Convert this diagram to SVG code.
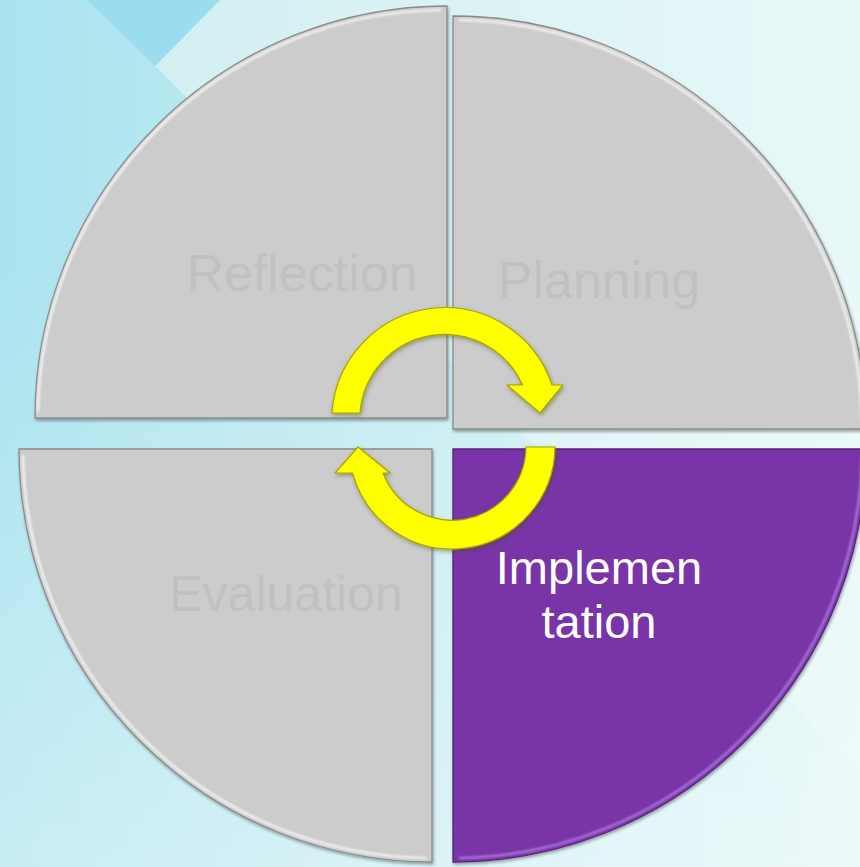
<svg xmlns="http://www.w3.org/2000/svg" width="860" height="867" viewBox="0 0 860 867">
  <defs>
    <linearGradient id="bgL" gradientUnits="userSpaceOnUse" x1="0" y1="0" x2="860" y2="0">
      <stop offset="0" stop-color="#aae3ef"/>
      <stop offset="0.5" stop-color="#c8edf2"/>
      <stop offset="1" stop-color="#e3f6f7"/>
    </linearGradient>
    <linearGradient id="bgR" gradientUnits="userSpaceOnUse" x1="150" y1="0" x2="860" y2="0">
      <stop offset="0" stop-color="#d2eff2"/>
      <stop offset="1" stop-color="#e8f8f8"/>
    </linearGradient>
    <linearGradient id="fadeB" x1="0" y1="0" x2="0" y2="1">
      <stop offset="0.3" stop-color="#ffffff" stop-opacity="0"/>
      <stop offset="1" stop-color="#ffffff" stop-opacity="0.35"/>
    </linearGradient>
    <filter id="shadow" x="-10%" y="-10%" width="120%" height="120%">
      <feDropShadow dx="1" dy="2" stdDeviation="1.6" flood-color="#000" flood-opacity="0.35"/>
    </filter>
    <filter id="ashadow" x="-20%" y="-20%" width="140%" height="140%">
      <feDropShadow dx="1" dy="2" stdDeviation="2" flood-color="#4a4a00" flood-opacity="0.45"/>
    </filter>
    <filter id="soft"><feGaussianBlur stdDeviation="0.8"/></filter>
  </defs>
  <style>
    .quad { fill: #cccccc; stroke: #8a8a8a; stroke-width: 1.3; filter: url(#shadow); }
    .quad.active { fill: #7934a7; stroke: #5a2380; }
    .hl { fill: none; stroke: #ffffff; stroke-width: 2.2; opacity: 0.85; filter: url(#soft); }
    .hl.active { stroke: #b98be6; }
    .lbl { font-family: "Liberation Sans", Arial, sans-serif; font-size: 52px; fill: #c1c1c1; text-anchor: middle; }
    .lbl.active { fill: #ffffff; font-size: 47px; }
    .arrow { fill: #ffff00; stroke: #a6a600; stroke-width: 1.2; stroke-linejoin: round; filter: url(#ashadow); }
  </style>

  <!-- background -->
  <rect x="0" y="0" width="860" height="867" fill="url(#bgL)"/>
  <polygon points="155,66 220,0 860,0 860,771" fill="url(#bgR)"/>
  <polygon points="87,0 155,66 220,0" fill="#9bdcee"/>
  <rect x="0" y="0" width="860" height="867" fill="url(#fadeB)"/>

  <g id="reflection">
    <path class="quad" d="M447,418 L35,418 A412,412 0 0 1 447,6 Z"/>
    <path class="hl" d="M38,412 A408,408 0 0 1 441,10"/>
    <text class="lbl" x="302" y="291">Reflection</text>
  </g>
  <g id="planning">
    <path class="quad" d="M453,429 L453,16 A413,413 0 0 1 866,429 Z"/>
    <path class="hl" d="M459,20 A409,409 0 0 1 862,423"/>
    <text class="lbl" x="599" y="298">Planning</text>
  </g>
  <g id="evaluation">
    <path class="quad" d="M432,449 L432,862 A413,413 0 0 1 19,449 Z"/>
    <path class="hl" d="M426,858 A409,409 0 0 1 23,455"/>
    <text class="lbl" x="286" y="611" style="font-size:50px">Evaluation</text>
  </g>
  <g id="implementation">
    <path class="quad active" d="M453,449 L866,449 A413,413 0 0 1 453,862 Z"/>
    <path class="hl active" d="M862,455 A409,409 0 0 1 459,858"/>
    <text class="lbl active" x="599" y="584">Implemen</text>
    <text class="lbl active" x="599" y="638">tation</text>
  </g>

  <g id="connectors">
    <path class="arrow" d="M332,413 A113,113 0 0 1 552,385 L563,385 L540,413 L507,385 L522.5,385 A85,85 0 0 0 360,413 Z"/>
    <path class="arrow" d="M555,447 A103,103 0 0 1 352.6,473 L335,473 L358,447 L390,473 L383,473 A74,74 0 0 0 526,447 Z"/>
  </g>
</svg>
